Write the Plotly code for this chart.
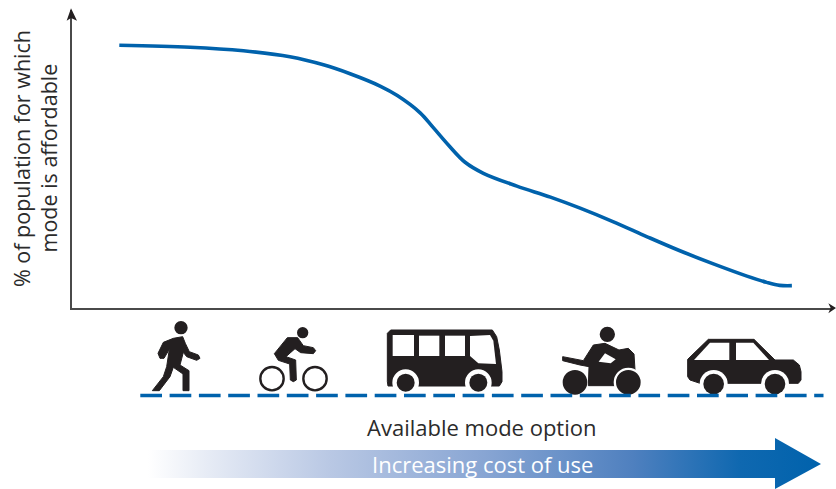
import plotly.graph_objects as go

# ---------- data ----------
cost_index = [6.3, 15.6, 22.6, 28.7, 33.1, 36.6, 40.6, 42.8, 45.8, 47.5, 49.5, 51.7,
              54.1, 58.5, 62.9, 66.8, 71.1, 75.6, 79.9, 84.3, 88.7, 91.3, 93.0, 94.6]
pct_affordable = [88.15, 87.5, 86.3, 84.3, 81.6, 78.6, 74.4, 71.3, 65.5, 60.6, 54.7, 48.9,
                  45.2, 40.9, 37.2, 33.5, 29.0, 23.9, 19.2, 14.8, 10.7, 8.6, 7.6, 7.5]
y_title_lines = ["% of population for which", "mode is affordable"]
x_title = "Available mode option"
arrow_title = "Increasing cost of use"

# ---------- style ----------
W, H = 836, 489
BLUE = "#0062ac"
INK = "#231f20"
FONT = "Open Sans"
AXIS = "#4a4a4a"

shapes = []


def poly(ox, oy, pts, fill=INK, round_px=0.0):
    d = "M" + " L".join(f"{ox + x / 3:.2f},{oy + y / 3:.2f}" for x, y in pts) + " Z"
    shapes.append(dict(type="path", path=d, xref="x2", yref="y2", fillcolor=fill,
                       line=dict(color=fill, width=round_px)))


def circ(ox, oy, cx, cy, r, fill=INK, stroke=None, sw=0):
    x, y, rr = ox + cx / 3, oy + cy / 3, r / 3
    shapes.append(dict(type="circle", xref="x2", yref="y2", x0=x - rr, x1=x + rr, y0=y - rr, y1=y + rr,
                       fillcolor=fill, line=dict(color=stroke or fill, width=sw)))


# axis arrowheads
poly(0, 0, [(213, 25), (231, 62), (213, 54), (200, 62)], INK)
poly(620, 300, [(648, 24), (625, 10), (632, 24), (625, 40)], INK)

# walker
ox, oy = 130, 310
circ(ox, oy, 153, 53, 20)
poly(ox, oy, [(100, 97), (130, 85), (158, 80), (166, 100), (178, 125), (205, 135), (210, 145), (200, 151),
              (170, 140), (160, 127), (150, 165), (177, 182), (177, 242), (159, 242), (159, 192), (130, 172),
              (120, 200), (88, 242), (67, 242), (100, 200), (110, 170), (118, 118), (102, 145), (90, 145),
              (84, 130)], round_px=1)

# cyclist
circ(ox, oy, 518, 68, 17)
circ(ox, oy, 426, 206, 35, fill="rgba(0,0,0,0)", stroke=INK, sw=2.4)
circ(ox, oy, 555, 206, 35, fill="rgba(0,0,0,0)", stroke=INK, sw=2.4)
poly(ox, oy, [(472, 83), (503, 83), (520, 107), (550, 113), (557, 122), (550, 131), (512, 128), (495, 116),
              (468, 140), (497, 150), (499, 210), (490, 215), (481, 210), (479, 162), (445, 151), (433, 131)],
     round_px=1)

# bus
ox, oy = 380, 310
poly(ox, oy, [(32, 60), (337, 60), (350, 80), (358, 120), (366, 185), (366, 215), (358, 228), (24, 228),
              (22, 215), (22, 70)], round_px=1)
for wx in (77, 295):
    circ(ox, oy, wx, 218, 40, fill="white")
    circ(ox, oy, wx, 218, 27)
poly(ox, oy, [(38, 75), (102, 75), (102, 138), (38, 138)], "white")
poly(ox, oy, [(117, 77), (178, 77), (178, 138), (117, 138)], "white")
poly(ox, oy, [(195, 77), (255, 77), (255, 138), (195, 138)], "white")
poly(ox, oy, [(270, 78), (330, 75), (340, 92), (348, 162), (295, 160), (270, 138)], "white")

# motorbike
ox, oy = 550, 320
circ(ox, oy, 172, 43, 23)
poly(ox, oy, [(38, 110), (100, 122), (130, 75), (165, 70), (207, 90), (235, 85), (252, 102), (255, 150),
              (222, 150), (195, 197), (115, 197), (117, 140), (90, 135), (38, 122)], round_px=1)
poly(ox, oy, [(165, 100), (197, 118), (182, 130), (146, 125)], "white")
circ(ox, oy, 75, 187, 37)
circ(ox, oy, 235, 187, 44, fill="white")
circ(ox, oy, 235, 187, 37)

# car
ox, oy = 620, 300
poly(ox, oy, [(203, 178), (265, 118), (402, 118), (465, 180), (520, 180), (538, 195), (543, 215), (543, 240),
              (535, 250), (240, 250), (210, 240), (203, 230)], round_px=1)
for wx in (281, 465):
    circ(ox, oy, wx, 252, 42, fill="white")
    circ(ox, oy, wx, 252, 31)
poly(ox, oy, [(222, 180), (270, 128), (328, 128), (328, 180)], "white")
poly(ox, oy, [(348, 128), (400, 128), (447, 180), (348, 180)], "white")

# ground dashes
shapes.append(dict(type="line", xref="x2", yref="y2", x0=140.3, x1=823.5, y0=395.5, y1=395.5,
                   line=dict(color=BLUE, width=3.6, dash="21.7px,7.6px")))

fig = go.Figure()

# gradient arrow (decorative band on the full-canvas overlay axes)
fig.add_trace(go.Scatter(
    x=[148, 775, 775, 821, 775, 775, 148, 148],
    y=[450, 450, 438, 464, 489, 478, 478, 450],
    xaxis="x2", yaxis="y2", mode="lines", line=dict(width=0),
    fill="toself", hoverinfo="skip", showlegend=False,
    fillgradient=dict(type="horizontal", start=148, stop=821, colorscale=[
        [0.0, "#ffffff"], [0.09, "#e6ebf5"], [0.27, "#b9c8e4"], [0.5, "#88a5d3"],
        [0.72, "#4f80bf"], [0.88, "#0f68b0"], [1.0, BLUE]]),
))

# main curve
fig.add_trace(go.Scatter(x=cost_index, y=pct_affordable, mode="lines", showlegend=False,
                         line=dict(color=BLUE, width=3.6, shape="spline", smoothing=1.0)))

annotations = [
    dict(text=y_title_lines[0], x=21.5, y=158.5, textangle=-90, size=21.5),
    dict(text=y_title_lines[1], x=48, y=158.5, textangle=-90, size=21.5),
    dict(text=x_title, x=482, y=426.5, size=22),
    dict(text=arrow_title, x=482, y=464, color="white", size=22),
]
for a in annotations:
    color = a.pop("color", "#2b2b2b")
    size = a.pop("size")
    a.update(xref="x2", yref="y2", showarrow=False, xanchor="center", yanchor="middle",
             font=dict(family=FONT, size=size, color=color))

fig.update_layout(
    width=W, height=H, autosize=False, margin=dict(l=0, r=0, t=0, b=0),
    paper_bgcolor="white", plot_bgcolor="rgba(0,0,0,0)", showlegend=False,
    shapes=shapes, annotations=annotations,
    xaxis=dict(domain=[72.3 / W, 833 / W], range=[0.13, 100], showgrid=False, zeroline=False, showticklabels=False,
               ticks="", showline=True, linecolor=AXIS, linewidth=1.6, fixedrange=True),
    yaxis=dict(domain=[(H - 308) / H, (H - 10) / H], range=[0, 100], showgrid=False, zeroline=False,
               showticklabels=False, ticks="", showline=True, linecolor=AXIS, linewidth=1.6, fixedrange=True),
    xaxis2=dict(domain=[0, 1], range=[0, W], visible=False, anchor="y2", fixedrange=True),
    yaxis2=dict(domain=[0, 1], range=[H, 0], visible=False, anchor="x2", fixedrange=True),
)

fig.write_html("out.html", config=dict(displayModeBar=False),
               post_script="document.body.style.margin='0';")
